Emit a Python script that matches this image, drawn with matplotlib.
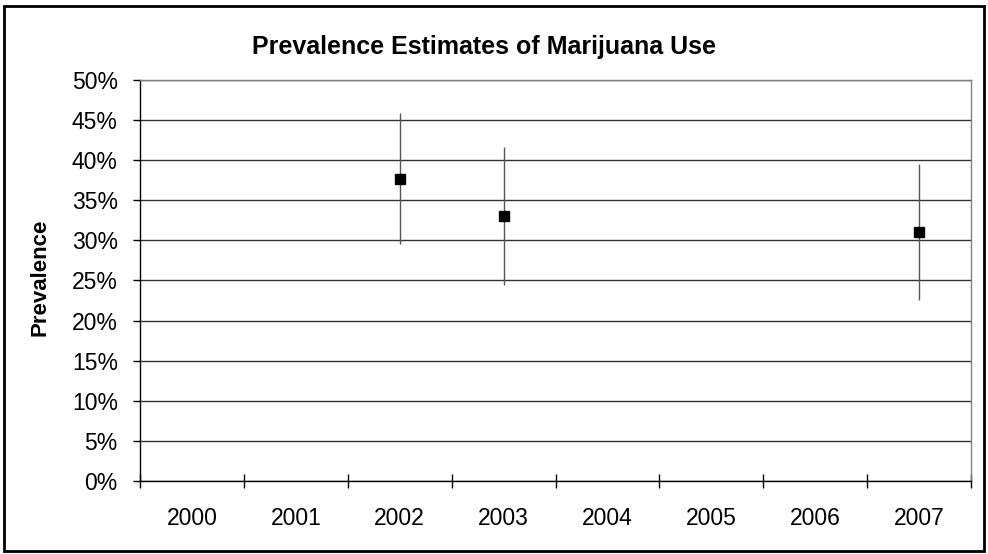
import matplotlib.pyplot as plt
import numpy as np
from matplotlib.patches import Rectangle
from matplotlib.ticker import FixedLocator, PercentFormatter

# Datos
anios = ["2000", "2001", "2002", "2003", "2004", "2005", "2006", "2007"]
anios_con_dato = ["2002", "2003", "2007"]
prevalencia = [37.7, 33.0, 31.0]
limite_inf = [29.5, 24.4, 22.6]
limite_sup = [45.9, 41.7, 39.5]

plt.rcParams["font.family"] = ["Liberation Sans", "DejaVu Sans"]

fig = plt.figure(figsize=(9.88, 5.54), dpi=100)
ax = fig.add_axes([0.1417, 0.1318, 0.8411, 0.7238])

pos = np.array([anios.index(a) for a in anios_con_dato])
prev = np.array(prevalencia)
err = [prev - np.array(limite_inf), np.array(limite_sup) - prev]

ax.errorbar(pos, prev, yerr=err, fmt="none", ecolor="#555555", elinewidth=1.0, capsize=0)
ax.plot(pos, prev, linestyle="none", marker="s", markersize=6.5, color="black")

ax.set_xlim(-0.5, len(anios) - 0.5)
ax.set_ylim(0, 50)
ax.yaxis.set_major_locator(FixedLocator(np.arange(0, 51, 5)))
ax.yaxis.set_major_formatter(PercentFormatter(decimals=0))
ax.grid(axis="y", color="#333333", linewidth=1.0)
ax.set_axisbelow(True)

ax.set_xticks(range(len(anios)))
ax.set_xticklabels(anios)
ax.set_xticks(np.arange(-0.5, len(anios), 1.0), minor=True)
ax.tick_params(axis="x", which="major", length=0, pad=19, labelsize=16.5)
ax.tick_params(axis="x", which="minor", direction="inout", length=10, width=1.0)
ax.tick_params(axis="y", which="major", direction="out", length=5, width=1.0, labelsize=16.5, pad=11)

ax.spines["left"].set_color("black")
ax.spines["bottom"].set_color("black")
ax.spines["top"].set_color("#808080")
ax.spines["right"].set_color("#808080")
for s in ax.spines.values():
    s.set_linewidth(1.0)

fig.text(40 / 988, 0.5, "Prevalence", rotation=90, ha="center", va="center",
         fontsize=16, fontweight="bold")
fig.text(484 / 988, 0.915, "Prevalence Estimates of Marijuana Use", ha="center", va="center",
         fontsize=18, fontweight="bold")

# Borde del gráfico
fig.patches.append(Rectangle((0.004, 0.006), 0.992, 0.983, transform=fig.transFigure,
                             fill=False, edgecolor="black", linewidth=2.0))

fig.savefig("out.png", dpi=100)
